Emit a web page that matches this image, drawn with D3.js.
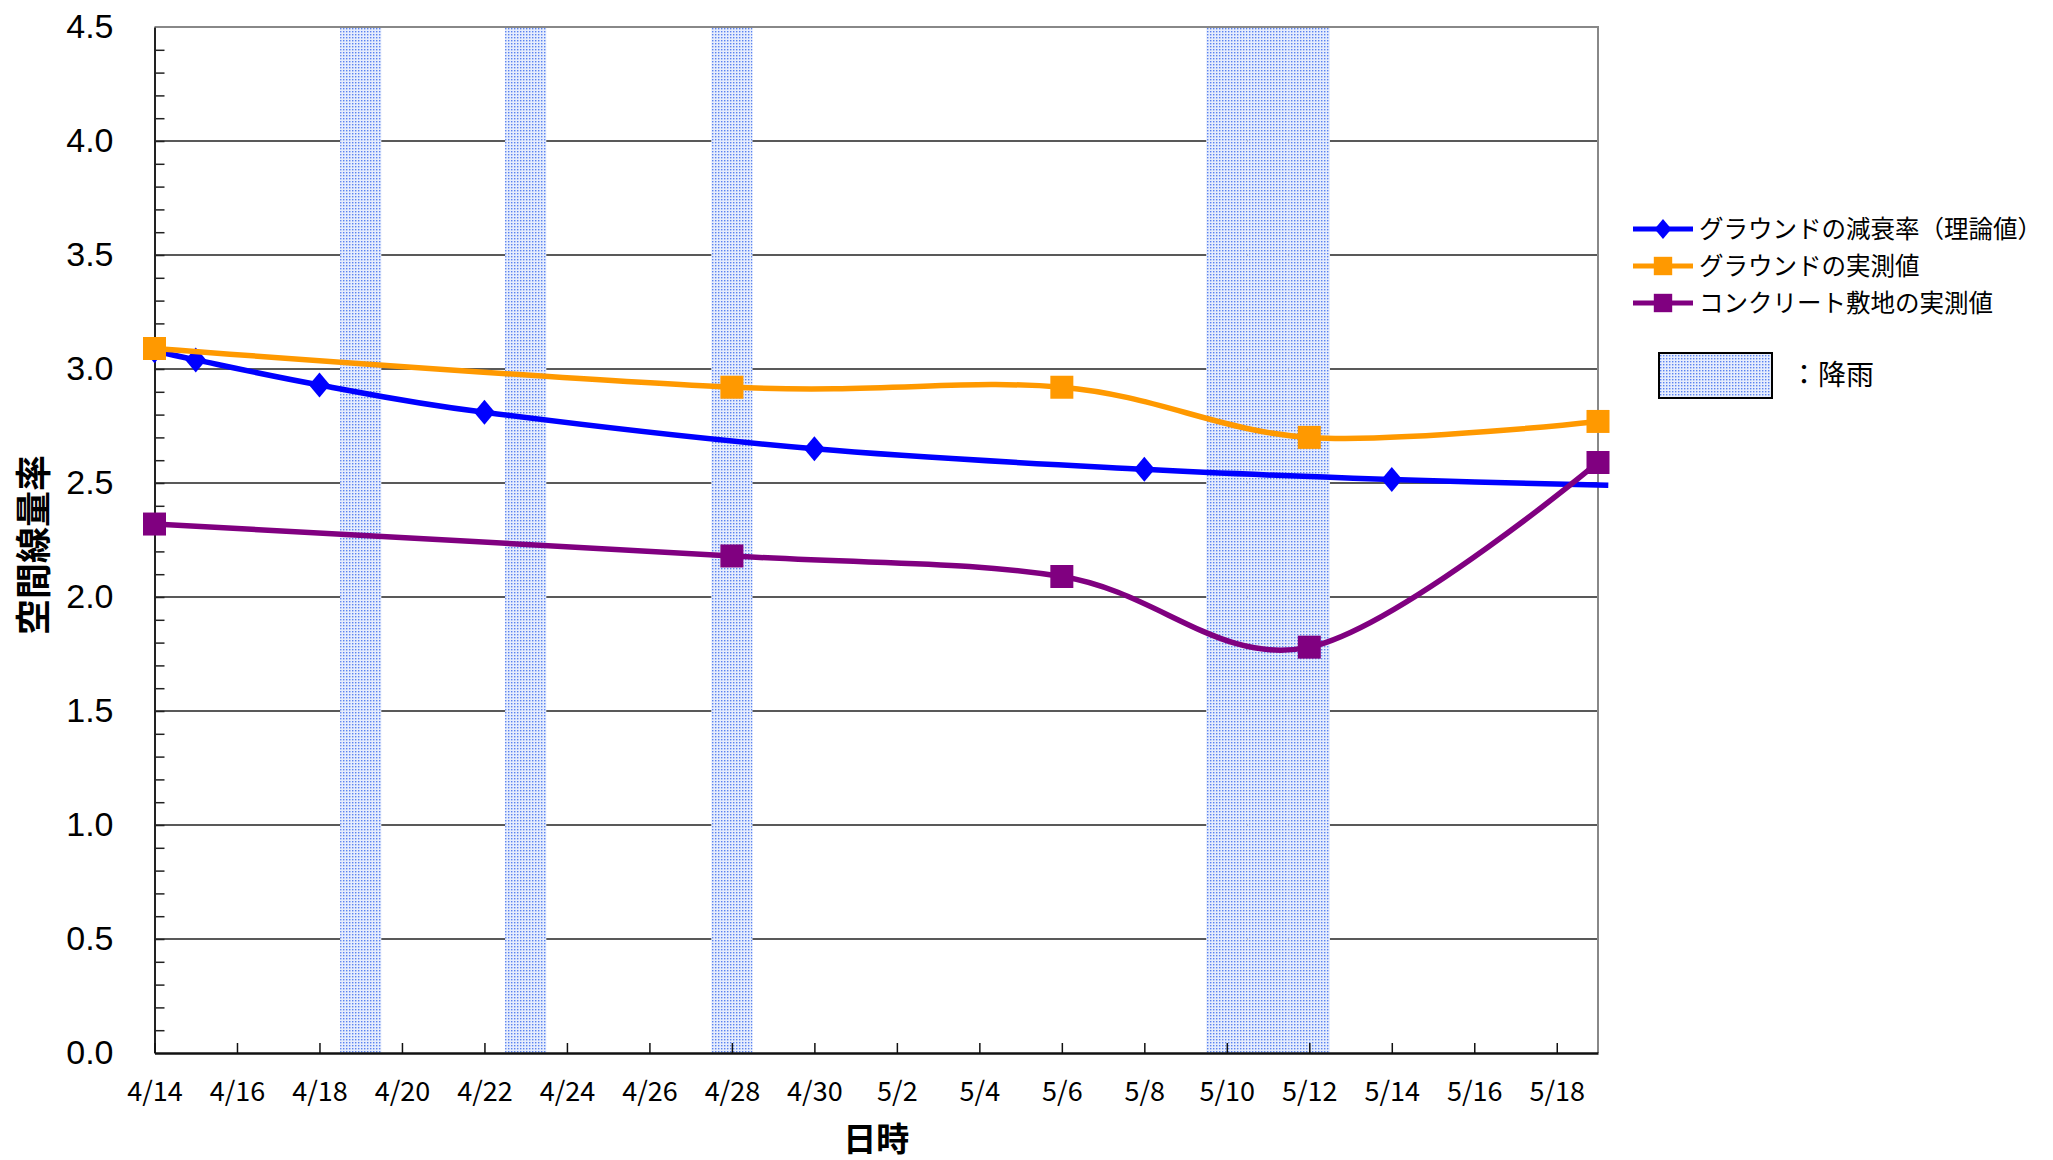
<!DOCTYPE html>
<html>
<head>
<meta charset="utf-8">
<script src="https://cdn.jsdelivr.net/npm/d3@7"></script>
<style>
    body { margin: 0; background: #fff; }
    svg { display: block; }
</style>
</head>
<body>
<svg width="2053" height="1160"></svg>
<script>
// Theoretical decay (blue) - last point runs a little past the frame
var theoryDates = ["2011-04-14T00:00", "2011-04-15T00:00", "2011-04-18T00:00", "2011-04-22T00:00",
    "2011-04-30T00:00", "2011-05-08T00:00", "2011-05-14T00:00", "2011-05-19T06:00"];
var theoryValues = [3.08, 3.04, 2.93, 2.81, 2.65, 2.56, 2.515, 2.49];

// Measured values
var measuredDates = ["2011-04-14T00:00", "2011-04-28T00:00", "2011-05-06T00:00", "2011-05-12T00:00", "2011-05-19T00:00"];
var groundValues = [3.09, 2.92, 2.92, 2.70, 2.77];
var concreteValues = [2.32, 2.18, 2.09, 1.78, 2.59];

var rainDays = ["2011-04-19T00:00", "2011-04-23T00:00", "2011-04-28T00:00",
    "2011-05-10T00:00", "2011-05-11T00:00", "2011-05-12T00:00"];

var seriesNames = ["グラウンドの減衰率（理論値）", "グラウンドの実測値", "コンクリート敷地の実測値"];
var seriesColors = ["#0000ff", "#ff9900", "#800080"];
var rainLabel = "：降雨";
var xTitle = "日時";
var yTitle = "空間線量率";
var yTicks = [0, 0.5, 1.0, 1.5, 2.0, 2.5, 3.0, 3.5, 4.0, 4.5];

var jp = "'Noto Sans CJK JP', 'Noto Sans', sans-serif";

var xScale = d3.scaleTime()
    .domain([new Date("2011-04-14T00:00"), new Date("2011-05-19T00:00")])
    .range([154.5, 1598]);
var yScale = d3.scaleLinear().domain([0, 4.5]).range([1053, 27]);

var svg = d3.select("svg");

// Rain fill pattern (fine blue dots)
var pat = svg.append("defs").append("pattern")
    .attr("id", "rain")
    .attr("width", 3)
    .attr("height", 3)
    .attr("patternUnits", "userSpaceOnUse");
pat.append("rect").attr("width", 3).attr("height", 3).attr("fill", "#e6edfd");
pat.append("rect").attr("x", 1).attr("y", 1).attr("width", 1.4).attr("height", 1.4).attr("fill", "#5a82f0");

// Gridlines
svg.append("g")
    .selectAll("line")
    .data(yTicks.slice(1, -1))
    .join("line")
    .attr("x1", xScale.range()[0])
    .attr("x2", xScale.range()[1])
    .attr("y1", d => yScale(d))
    .attr("y2", d => yScale(d))
    .attr("stroke", "#222")
    .attr("stroke-width", 1.5);

// Rain bands
svg.append("g")
    .selectAll("rect")
    .data(rainDays.map(d => new Date(d)))
    .join("rect")
    .attr("x", d => xScale(d3.timeHour.offset(d, -12)))
    .attr("width", d => xScale(d3.timeHour.offset(d, 12)) - xScale(d3.timeHour.offset(d, -12)))
    .attr("y", yScale(4.5))
    .attr("height", yScale(0) - yScale(4.5))
    .attr("fill", "url(#rain)");

// Top and right frame
svg.append("path")
    .attr("d", "M" + xScale.range()[0] + "," + yScale(4.5) + "H" + xScale.range()[1] + "V" + yScale(0))
    .attr("fill", "none")
    .attr("stroke", "#888")
    .attr("stroke-width", 2);

// Y axis
var yAxis = svg.append("g")
    .attr("transform", "translate(" + xScale.range()[0] + ",0)")
    .call(d3.axisLeft(yScale)
        .tickValues(yTicks)
        .tickFormat(d3.format(".1f"))
        .tickSizeInner(0)
        .tickSizeOuter(0)
        .tickPadding(41));
yAxis.select(".domain").attr("stroke", "#222").attr("stroke-width", 2);
yAxis.selectAll("text")
    .attr("font-family", "'Liberation Sans', Arial, sans-serif")
    .attr("font-size", 34)
    .attr("fill", "#000");

var yMinor = svg.append("g")
    .attr("transform", "translate(" + xScale.range()[0] + ",0)")
    .call(d3.axisLeft(yScale)
        .tickValues(d3.range(1, 45).map(i => i / 10))
        .tickFormat("")
        .tickSize(-10));
yMinor.select(".domain").remove();
yMinor.selectAll("line").attr("stroke", "#222").attr("stroke-width", 1.5);

// X axis
var xTickDates = d3.timeDay.range(new Date("2011-04-14T00:00"), new Date("2011-05-19T00:00"), 2);
var xAxis = svg.append("g")
    .attr("transform", "translate(0," + yScale(0) + ")")
    .call(d3.axisBottom(xScale)
        .tickValues(xTickDates)
        .tickFormat(d3.timeFormat("%-m/%-d"))
        .tickSize(-10)
        .tickSizeOuter(0)
        .tickPadding(29));
xAxis.select(".domain").attr("stroke", "#111").attr("stroke-width", 2.5);
xAxis.selectAll("line").attr("stroke", "#111").attr("stroke-width", 1.5);
xAxis.selectAll("text")
    .attr("font-family", jp)
    .attr("font-size", 27)
    .attr("fill", "#000");

// Series
var lineGen = d3.line()
    .x(d => xScale(d.date))
    .y(d => yScale(d.value))
    .curve(d3.curveCatmullRom.alpha(0));

function toPoints(dates, values) {
    return dates.map((d, i) => ({ date: new Date(d), value: values[i] }));
}

var theory = toPoints(theoryDates, theoryValues);
var ground = toPoints(measuredDates, groundValues);
var concrete = toPoints(measuredDates, concreteValues);

// diamond a bit taller than wide, as in the original
var diamond = "M0,-12.5L10.5,0L0,12.5L-10.5,0Z";
var square = d3.symbol().type(d3.symbolSquare).size(529)();

function drawSeries(points, markerPoints, color, sym) {
    svg.append("path")
        .attr("d", lineGen(points))
        .attr("fill", "none")
        .attr("stroke", color)
        .attr("stroke-width", 5.5)
        .attr("stroke-linejoin", "round");
    svg.append("g")
        .selectAll("path")
        .data(markerPoints)
        .join("path")
        .attr("d", sym)
        .attr("transform", d => "translate(" + xScale(d.date) + "," + yScale(d.value) + ")")
        .attr("fill", color);
}

// the blue end point has no marker
drawSeries(theory, theory.slice(0, -1), seriesColors[0], diamond);
drawSeries(ground, ground, seriesColors[1], square);
drawSeries(concrete, concrete, seriesColors[2], square);

// Axis titles
svg.append("text")
    .attr("x", (xScale.range()[0] + xScale.range()[1]) / 2)
    .attr("y", 1151)
    .attr("text-anchor", "middle")
    .attr("font-family", jp)
    .attr("font-weight", "bold")
    .attr("font-size", 33)
    .text(xTitle);

svg.append("text")
    .attr("transform", "translate(47,545) rotate(-90)")
    .attr("text-anchor", "middle")
    .attr("font-family", jp)
    .attr("font-weight", "bold")
    .attr("font-size", 36)
    .text(yTitle);

// Legend
var legend = svg.append("g").attr("transform", "translate(1633,229)");
var legendSym = [diamond, square, square];

seriesNames.forEach((name, i) => {
    var row = legend.append("g").attr("transform", "translate(0," + i * 37 + ")");
    row.append("line")
        .attr("x1", 0)
        .attr("x2", 60)
        .attr("stroke", seriesColors[i])
        .attr("stroke-width", 5);
    row.append("path")
        .attr("d", legendSym[i])
        .attr("transform", "translate(30,0) scale(0.8)")
        .attr("fill", seriesColors[i]);
    row.append("text")
        .attr("x", 66)
        .attr("y", 9)
        .attr("font-family", jp)
        .attr("font-size", 24.5)
        .text(name);
});

svg.append("rect")
    .attr("x", 1659)
    .attr("y", 353)
    .attr("width", 113)
    .attr("height", 45)
    .attr("fill", "url(#rain)")
    .attr("stroke", "#000")
    .attr("stroke-width", 2);

svg.append("text")
    .attr("x", 1790)
    .attr("y", 385)
    .attr("font-family", jp)
    .attr("font-size", 28)
    .text(rainLabel);
</script>
</body>
</html>
